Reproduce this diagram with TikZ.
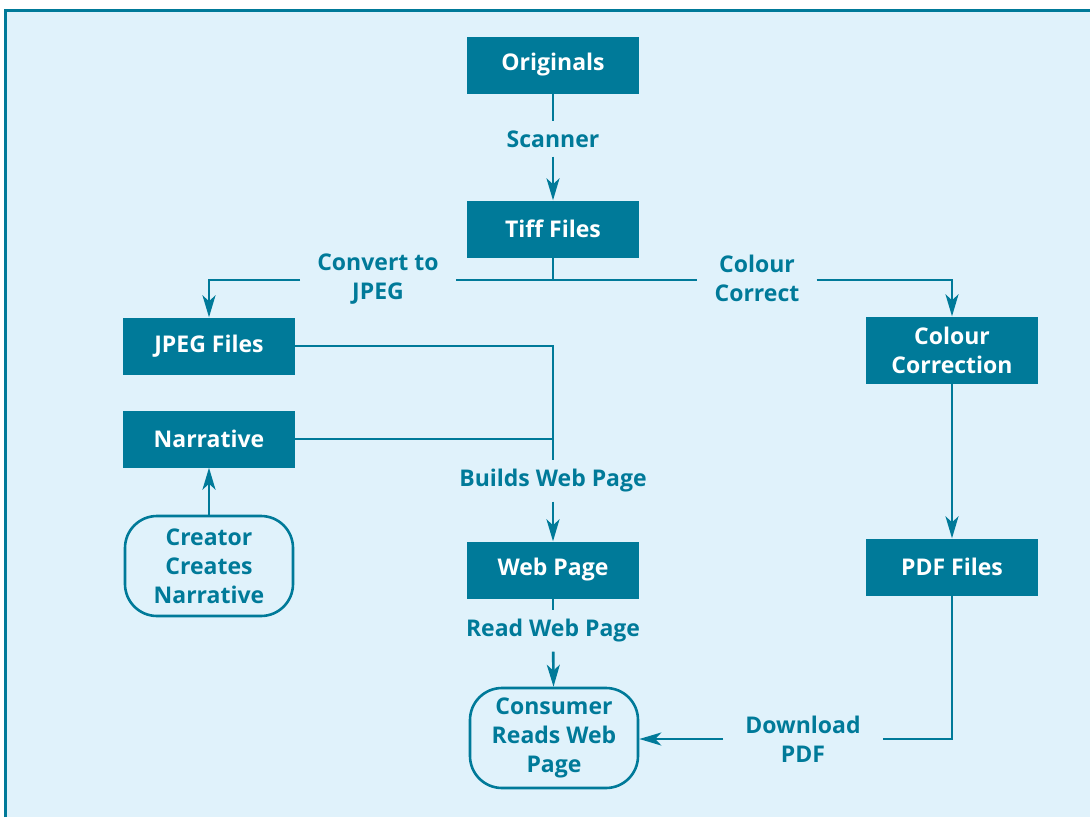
\documentclass[tikz,border=0pt]{standalone}
\usepackage{fontspec}
\setmainfont{Open Sans}
\usetikzlibrary{arrows.meta}
\definecolor{flowteal}{HTML}{007A99}
\definecolor{panelblue}{HTML}{E0F2FB}
\newcommand{\flowfont}{\bfseries\fontsize{23}{29}\selectfont}
\tikzset{
  box/.style={fill=flowteal, text=white, font=\flowfont, align=center,
    minimum width=172pt, minimum height=57pt, inner sep=0pt},
  endbox/.style={draw=flowteal, line width=2.6pt, rounded corners=32pt,
    text=flowteal, font=\flowfont, align=center,
    minimum width=168pt, minimum height=100pt, inner sep=0pt},
  lbl/.style={text=flowteal, font=\flowfont, align=center,
    inner xsep=17pt, inner ysep=9pt},
  link/.style={draw=flowteal, line width=2.6pt},
  arr/.style={-{Stealth[length=22pt,width=13pt,inset=6pt]}}
}
\begin{document}
\begin{tikzpicture}[x=1pt,y=-1pt]
  \useasboundingbox (0,0) rectangle (1090,817);
  \fill [white] (0,0) rectangle (1090,817);
  \fill [panelblue] (5,10) rectangle (1090,817);
  \draw [flowteal, line width=3pt] (5,817) -- (5,10) -- (1090,10);
  % boxes
  \node [box] (orig) at (553,65) {Originals};
  \node [box] (tiff) at (553,229) {Tiff Files};
  \node [box] (jpeg) at (209,346) {JPEG Files};
  \node [box] (narr) at (209,439) {Narrative};
  \node [box, minimum height=67pt] (colc) at (952,350) {Colour\\Correction};
  \node [box] (web) at (553,570) {Web Page};
  \node [box] (pdf) at (952,567) {PDF Files};
  \node [endbox] (creat) at (209,566) {Creator\\Creates\\Narrative};
  \node [endbox] (cons) at (554,738) {Consumer\\Reads Web\\Page};
  % labels
  \node [lbl] (scan) at (553,139) {Scanner};
  \node [lbl] (conv) at (378,279) {Convert to\\JPEG};
  \node [lbl] (corr) at (757,278) {Colour\\Correct};
  \node [lbl] (build) at (553,481) {Builds Web Page};
  \node [lbl] (read) at (553,631) {Read Web Page};
  \node [lbl, inner xsep=22pt] (down) at (803,739) {Download\\PDF};
  % connectors
  \draw [link] (orig) -- (scan);
  \draw [link, arr] (scan) -- (tiff);
  \coordinate (fork) at (tiff.south |- 0,280);
  \draw [link] (tiff.south) -- (fork);
  \draw [link] (fork) -- (fork -| conv.east);
  \draw [link, arr] (conv.west |- fork) -| (jpeg);
  \draw [link] (fork) -- (fork -| corr.west);
  \draw [link, arr] (corr.east |- fork) -| (colc);
  \draw [link] (jpeg) -| (build);
  \draw [link] (narr) -- (narr -| build);
  \draw [link, arr] (creat) -- (narr);
  \draw [link, arr] (build) -- (web);
  \draw [link] (web) -- (read);
  \draw [link, arr] (read) -- (cons);
  \draw [link, arr] (colc) -- (pdf);
  \draw [link] (pdf) |- (down);
  \draw [link, arr] (down.west) -- (down.west -| cons.east);
\end{tikzpicture}
\end{document}
